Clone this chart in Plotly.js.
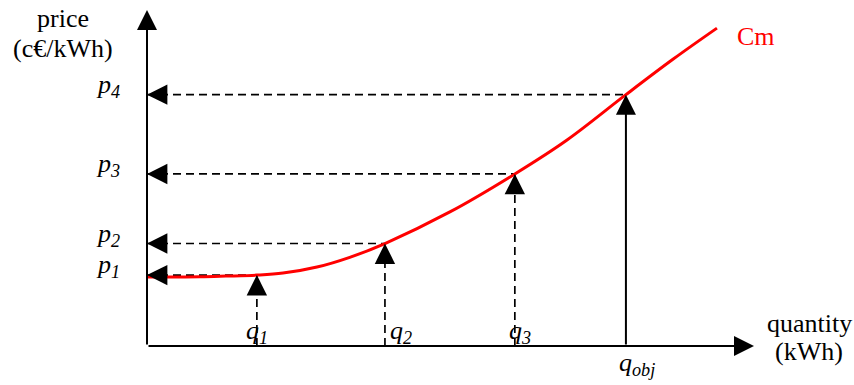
<!DOCTYPE html>
<html>
<head>
<meta charset="utf-8">
<script src="https://cdn.plot.ly/plotly-3.0.1.min.js"></script>
<style>html,body{margin:0;padding:0;background:#fff;}#chart{width:854px;height:385px;}</style>
</head>
<body>
<div id="chart"></div>
<script>
// ---- data (axis units: 0..10) ----
const qValues = [1.81, 3.92, 6.06, 7.89];
const pValues = [2.11, 3.05, 5.12, 7.48];
const qLabels = ['q<sub>1</sub>', 'q<sub>2</sub>', 'q<sub>3</sub>', 'q<sub>obj</sub>'];
const pLabels = ['p<sub>1</sub>', 'p<sub>2</sub>', 'p<sub>3</sub>', 'p<sub>4</sub>'];
const curveQ = [0, 0.87, 1.30, 1.81, 2.24, 2.80, 3.34, 3.92, 4.99, 6.06, 6.92, 7.89, 8.67, 9.39];
const curveP = [2.05, 2.06, 2.08, 2.11, 2.17, 2.35, 2.64, 3.05, 3.99, 5.12, 6.13, 7.48, 8.54, 9.46];
const curveName = 'Cm';
const xTitle = ['quantity', '(kWh)'];
const yTitle = ['price', '(c€/kWh)'];
const axisMax = 10;

const FONT = 'Times New Roman, Liberation Serif, serif';
const dashStyle = '8px,5px';

// horizontal dashed guides: from the price axis to the curve point
const hx = [], hy = [];
qValues.forEach((q, i) => { hx.push(0, q, null); hy.push(pValues[i], pValues[i], null); });
// vertical dashed guides (all but q_obj)
const vx = [], vy = [];
qValues.slice(0, 3).forEach((q, i) => { vx.push(q, q, null); vy.push(0, pValues[i], null); });

const traces = [
  {x: hx, y: hy, mode: 'lines', line: {color: '#000', width: 1.7, dash: dashStyle}, hoverinfo: 'skip'},
  {x: vx, y: vy, mode: 'lines', line: {color: '#000', width: 1.7, dash: dashStyle}, hoverinfo: 'skip'},
  {x: curveQ, y: curveP, mode: 'lines', line: {color: '#ff0000', width: 3, shape: 'spline', smoothing: 1}, hoverinfo: 'skip'}
];

const ann = [];
// axes with arrowheads
ann.push({x: 0, y: axisMax, ax: 0, ay: 0, xref: 'x', yref: 'y', axref: 'x', ayref: 'y', text: '',
  showarrow: true, arrowhead: 2, arrowsize: 2, arrowwidth: 2, arrowcolor: '#000', standoff: 0});
ann.push({x: axisMax, y: 0, ax: 0, ay: 0, xref: 'x', yref: 'y', axref: 'x', ayref: 'y', text: '',
  showarrow: true, arrowhead: 2, arrowsize: 2, arrowwidth: 2, arrowcolor: '#000', standoff: 0});
// arrowheads pointing to the curve (vertical) and to the price axis (horizontal)
qValues.forEach((q, i) => {
  if (i < 3) {
    ann.push({x: q, y: pValues[i], xref: 'x', yref: 'y', ax: 0, ay: 16, text: '',
      showarrow: true, arrowhead: 2, arrowsize: 2.4, arrowwidth: 1.7, arrowcolor: '#000', standoff: 0});
  } else {
    ann.push({x: q, y: pValues[i], ax: q, ay: 0, xref: 'x', yref: 'y', axref: 'x', ayref: 'y', text: '',
      showarrow: true, arrowhead: 2, arrowsize: 2, arrowwidth: 2, arrowcolor: '#000', standoff: 0});
  }
  ann.push({x: 0, y: pValues[i], xref: 'x', yref: 'y', ax: 16, ay: 0, text: '',
    showarrow: true, arrowhead: 2, arrowsize: 2.4, arrowwidth: 1.7, arrowcolor: '#000', standoff: 0});
});
// price labels
pValues.forEach((p, i) => {
  ann.push({x: 0, y: p, xref: 'paper', yref: 'y', xanchor: 'right', yanchor: 'middle',
    xshift: -25, yshift: 9, showarrow: false, text: '<i>' + pLabels[i] + '</i>',
    font: {family: FONT, size: 26, color: '#000'}});
});
// quantity labels
const qShift = [0, 16, 5, 11];
qValues.forEach((q, i) => {
  const below = i === 3;
  ann.push({x: q, y: 0, xref: 'x', yref: 'paper', xanchor: 'center', yanchor: 'middle',
    xshift: qShift[i], yshift: below ? -18 : 14, showarrow: false, text: '<i>' + qLabels[i] + '</i>',
    font: {family: FONT, size: 26, color: '#000'}});
});
// curve name
ann.push({x: curveQ[curveQ.length - 1], y: curveP[curveP.length - 1], xref: 'x', yref: 'y',
  xanchor: 'center', yanchor: 'middle', xshift: 39, yshift: -8, showarrow: false, text: curveName,
  font: {family: FONT, size: 26, color: '#ff0000'}});
// axis titles
ann.push({x: 0, y: 1, xref: 'paper', yref: 'paper', xanchor: 'center', yanchor: 'middle', xshift: -84, yshift: -8,
  showarrow: false, text: yTitle[0], font: {family: FONT, size: 26, color: '#000'}});
ann.push({x: 0, y: 1, xref: 'paper', yref: 'paper', xanchor: 'center', yanchor: 'middle', xshift: -84, yshift: -38,
  showarrow: false, text: yTitle[1], font: {family: FONT, size: 26, color: '#000'}});
ann.push({x: 1, y: 0, xref: 'paper', yref: 'paper', xanchor: 'center', yanchor: 'middle', xshift: 55, yshift: 23,
  showarrow: false, text: xTitle[0], font: {family: FONT, size: 26, color: '#000'}});
ann.push({x: 1, y: 0, xref: 'paper', yref: 'paper', xanchor: 'center', yanchor: 'middle', xshift: 55, yshift: -5,
  showarrow: false, text: xTitle[1], font: {family: FONT, size: 26, color: '#000'}});

const layout = {
  width: 854, height: 385,
  margin: {l: 147, r: 100, t: 10, b: 39, pad: 0},
  paper_bgcolor: '#fff', plot_bgcolor: '#fff',
  showlegend: false,
  xaxis: {range: [0, axisMax], visible: false, fixedrange: true},
  yaxis: {range: [0, axisMax], visible: false, fixedrange: true},
  annotations: ann
};

Plotly.newPlot('chart', traces, layout, {displayModeBar: false, staticPlot: true});
</script>
</body>
</html>
